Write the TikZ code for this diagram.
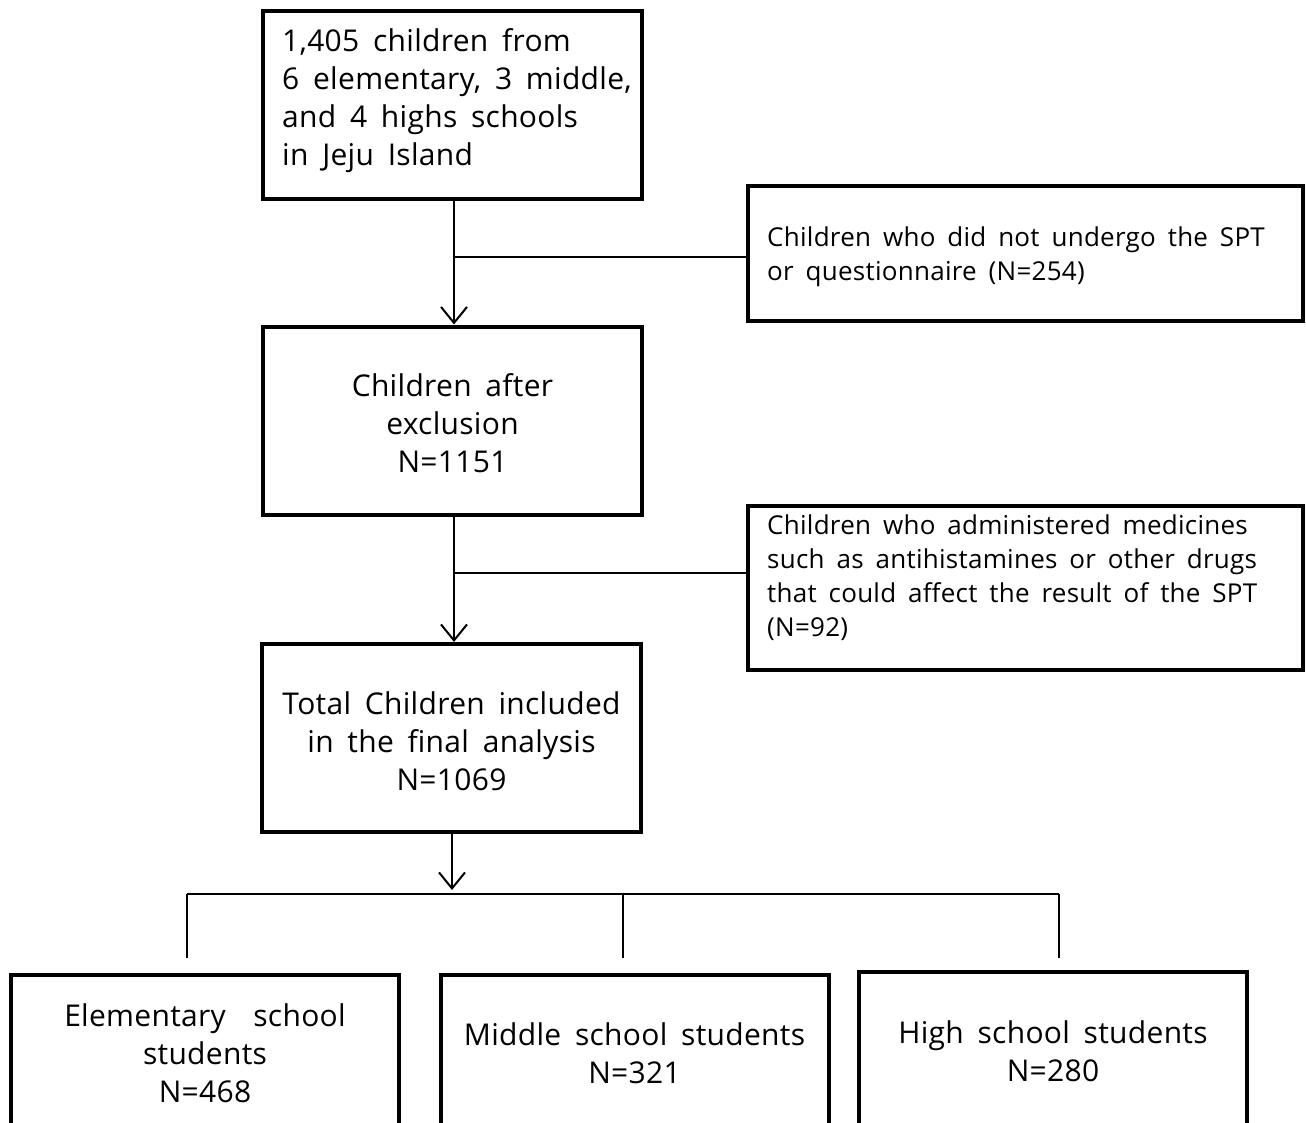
\documentclass[tikz,border=0pt]{standalone}
\usepackage{fontspec}
\setmainfont{Open Sans}[WordSpace=1.7,LetterSpace=1]
\usetikzlibrary{arrows.meta}
\begin{document}
\begin{tikzpicture}[x=1pt,y=-1pt,
  mainbox/.style={draw,line width=4pt,minimum width=379pt,minimum height=188pt,inner sep=0pt},
  sidebox/.style={draw,line width=3.5pt,minimum width=555pt,inner sep=0pt},
  botbox/.style={draw,line width=4pt,minimum width=388pt,minimum height=200pt,inner sep=0pt},
  txt/.style={font=\fontsize{30}{38}\selectfont,inner sep=0pt},
  stxt/.style={font=\fontsize{26}{34}\selectfont,inner sep=0pt},
  conn/.style={line width=2pt},
  arr/.style={line width=2pt,-{Straight Barb[length=16pt,width=26pt,line width=2pt]}}]
\useasboundingbox (0,0) rectangle (1306,1122);
\clip (0,0) rectangle (1306,1122);
\fill[white] (0,0) rectangle (1306,1122);
% main boxes
\node[mainbox] (b1) at (452.5,105) {};
\node[txt,align=left,anchor=west] (t1) at (282,101) {1,405 children from\\6 elementary, 3 middle,\\and 4 highs schools\\in Jeju Island};
\node[mainbox] (b2) at (452.5,420.5) {};
\node[txt,align=center] (t2) at (452.5,423) {Children after\\exclusion\\N=1151};
\node[mainbox] (b3) at (451.5,738) {};
\node[txt,align=center] (t3) at (451.5,741) {Total Children included\\in the final analysis\\N=1069};
% side boxes
\node[sidebox,minimum height=135pt] (s1) at (1025.5,253.5) {};
\node[stxt,align=left,anchor=west] (ts1) at (767,257) {Children who did not undergo the SPT\\or questionnaire (N=254)};
\node[sidebox,minimum height=164pt] (s2) at (1025.5,588) {};
\node[stxt,align=left,anchor=west] (ts2) at (767,578) {Children who administered medicines\\such as antihistamines or other drugs\\that could affect the result of the SPT\\(N=92)};
% bottom boxes
\node[botbox] (e) at (205,1075) {};
\node[txt,align=center] (te) at (205,1053) {Elementary~~school\\students\\N=468};
\node[botbox] (m) at (634.5,1075) {};
\node[txt,align=center] (tm) at (634.5,1053) {Middle school students\\N=321};
\node[botbox] (h) at (1053,1072) {};
\node[txt,align=center] (th) at (1053,1051) {High school students\\N=280};
% connectors
\coordinate (j1) at (454,257);
\coordinate (j2) at (454,573);
\draw[arr] (b1.south -| j1) -- (b2.north -| j1);
\draw[conn] (j1) -- (j1 -| s1.west);
\draw[arr] (b2.south -| j2) -- (b3.north -| j2);
\draw[conn] (j2) -- (j2 -| s2.west);
\coordinate (a3) at (452,833);
\coordinate (bar) at (452,890);
\draw[arr] (b3.south -| a3) -- (bar);
\coordinate (bl) at (187,894);
\coordinate (bm) at (623,894);
\coordinate (br) at (1059,894);
\draw[conn] (bl) -- (br);
\coordinate (el) at (187,958);
\coordinate (em) at (623,958);
\coordinate (er) at (1059,958);
\draw[conn] (bl) -- (el);
\draw[conn] (bm) -- (em);
\draw[conn] (br) -- (er);
\end{tikzpicture}
\end{document}
